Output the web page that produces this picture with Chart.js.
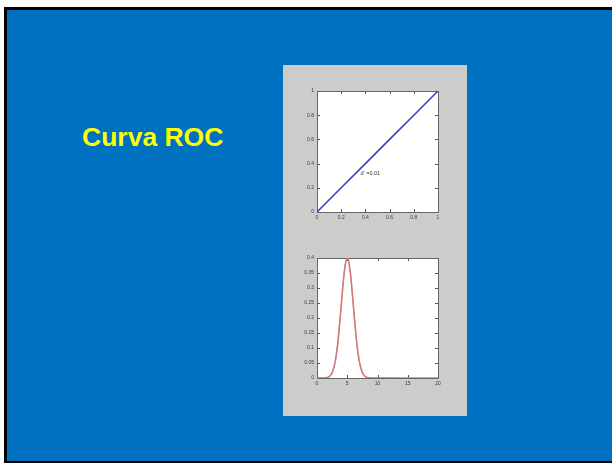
<!DOCTYPE html>
<html>
<head>
<meta charset="utf-8">
<script src="https://cdn.jsdelivr.net/npm/chart.js@4/dist/chart.umd.min.js"></script>
<style>
  html, body { margin: 0; padding: 0; background: #ffffff; width: 612px; height: 464px; overflow: hidden; }
  #slide { position: absolute; left: 4px; top: 7px; width: 640px; height: 456px; box-sizing: border-box;
           border-style: solid; border-color: #000; border-width: 3px 3px 2px 3px; background: #0070C0; }
  #title { position: absolute; left: 82px; top: 122px; font: bold 26.5px "Liberation Sans", Arial, sans-serif;
           line-height: 30px; color: #FFFF00; white-space: nowrap; }
  #panel { position: absolute; left: 283px; top: 65px; width: 184px; height: 351px; background: #CCCCCC; }
  #c1 { position: absolute; left: 283px; top: 65px; }
  #c2 { position: absolute; left: 283px; top: 240px; }
</style>
</head>
<body>
<div id="slide"></div>
<div id="title">Curva ROC</div>
<div id="panel"></div>
<canvas id="c1" width="184" height="175" style="width:184px;height:175px"></canvas>
<canvas id="c2" width="184" height="176" style="width:184px;height:176px"></canvas>
<script>
// ---- Data ----
const rocFalseAlarm = [0, 0.2, 0.4, 0.6, 0.8, 1];
const rocHit        = [0, 0.2, 0.4, 0.6, 0.8, 1];
const rocTickValues = [0, 0.2, 0.4, 0.6, 0.8, 1];
const rocTickLabels = ['0', '0.2', '0.4', '0.6', '0.8', '1'];
const rocNote = "d' =0.01";

const noiseX = [0, 0.5, 1, 1.5, 2, 2.5, 3, 3.25, 3.5, 3.75, 4, 4.25, 4.5, 4.75, 5, 5.25, 5.5, 5.75, 6, 6.25, 6.5, 6.75, 7, 7.5, 8, 8.5, 9, 10, 11, 12, 13, 13.5];
const noiseY = [0, 0, 0.0001, 0.001, 0.0045, 0.0175, 0.054, 0.086, 0.13, 0.183, 0.242, 0.301, 0.352, 0.387, 0.399, 0.387, 0.352, 0.301, 0.242, 0.183, 0.13, 0.086, 0.054, 0.0175, 0.0045, 0.001, 0.0001, 0, 0, 0, 0, 0];
const signalX = [0, 0.5, 1, 1.5, 2, 2.5, 3, 3.25, 3.5, 3.75, 4, 4.25, 4.5, 4.75, 5, 5.25, 5.5, 5.75, 6, 6.25, 6.5, 6.75, 7, 7.5, 8, 8.5, 9, 10, 12, 14, 16, 18, 20];
const signalY = [0, 0, 0.0001, 0.001, 0.0043, 0.0172, 0.053, 0.085, 0.128, 0.181, 0.240, 0.300, 0.351, 0.386, 0.399, 0.388, 0.353, 0.303, 0.244, 0.185, 0.131, 0.087, 0.055, 0.0178, 0.0046, 0.001, 0.0001, 0, 0, 0, 0, 0, 0];
const distXTickValues = [0, 5, 10, 15, 20];
const distXTickLabels = ['0', '5', '10', '15', '20'];
const distYTickValues = [0, 0.05, 0.1, 0.15, 0.2, 0.25, 0.3, 0.35, 0.4];
const distYTickLabels = ['0', '0.05', '0.1', '0.15', '0.2', '0.25', '0.3', '0.35', '0.4'];

const pts = (xs, ys) => xs.map((x, i) => ({ x: x, y: ys[i] }));

// ---- Plugins ----
const frameTicks = {
  id: 'frameTicks',
  beforeDatasetsDraw(chart) {
    const { ctx, chartArea: a, scales } = chart;
    const L = 3;
    ctx.save();
    ctx.fillStyle = '#ffffff';
    ctx.fillRect(a.left, a.top, a.right - a.left, a.bottom - a.top);
    ctx.strokeStyle = '#555555';
    ctx.lineWidth = 1;
    ctx.beginPath();
    scales.x.ticks.forEach(t => {
      const px = Math.round(scales.x.getPixelForValue(t.value)) + 0.5;
      ctx.moveTo(px, a.bottom); ctx.lineTo(px, a.bottom - L);
      ctx.moveTo(px, a.top); ctx.lineTo(px, a.top + L);
    });
    scales.y.ticks.forEach(t => {
      const py = Math.round(scales.y.getPixelForValue(t.value)) + 0.5;
      ctx.moveTo(a.left, py); ctx.lineTo(a.left + L, py);
      ctx.moveTo(a.right, py); ctx.lineTo(a.right - L, py);
    });
    ctx.stroke();
    ctx.strokeStyle = '#666666';
    ctx.strokeRect(Math.round(a.left) + 0.5, Math.round(a.top) + 0.5,
                   Math.round(a.right - a.left), Math.round(a.bottom - a.top));
    ctx.restore();
  }
};

const noteLabel = {
  id: 'noteLabel',
  afterDatasetsDraw(chart, args, opts) {
    if (!opts.text) return;
    const { ctx, scales } = chart;
    ctx.save();
    ctx.fillStyle = '#333333';
    ctx.font = '5.5px "Liberation Sans", Arial, sans-serif';
    ctx.textAlign = 'left';
    ctx.textBaseline = 'middle';
    ctx.fillText(opts.text, scales.x.getPixelForValue(opts.x), scales.y.getPixelForValue(opts.y));
    ctx.restore();
  }
};

function axis(min, max, values, labels, isY) {
  return {
    type: 'linear', min: min, max: max,
    grid: { display: false, drawTicks: false },
    border: { display: false },
    afterBuildTicks: s => { s.ticks = values.map(v => ({ value: v })); },
    afterFit: s => { if (isY) s.width = 20; else s.height = 12; },
    ticks: {
      autoSkip: false, maxRotation: 0, padding: 3,
      color: '#3a3a3a',
      font: { size: 5, family: '"Liberation Sans", Arial, sans-serif' },
      callback: (v, i) => labels[i]
    }
  };
}

const common = {
  responsive: false, animation: false, devicePixelRatio: 1,
  elements: { point: { radius: 0 } }
};

new Chart(document.getElementById('c1'), {
  type: 'scatter',
  data: { datasets: [{
    data: pts(rocFalseAlarm, rocHit), showLine: true,
    borderColor: '#3838c8', borderWidth: 1.5, pointRadius: 0
  }]},
  options: Object.assign({}, common, {
    layout: { padding: { left: 14, right: 29, top: 26, bottom: 16 } },
    scales: {
      x: axis(0, 1, rocTickValues, rocTickLabels, false),
      y: axis(0, 1, rocTickValues, rocTickLabels, true)
    },
    plugins: { legend: { display: false }, tooltip: { enabled: false },
      noteLabel: { text: rocNote, x: 0.36, y: 0.32 } }
  }),
  plugins: [frameTicks, noteLabel]
});

new Chart(document.getElementById('c2'), {
  type: 'scatter',
  data: { datasets: [
    { data: pts(signalX, signalY), showLine: true, borderColor: 'rgba(214,120,120,0.95)', borderWidth: 1.6, pointRadius: 0, cubicInterpolationMode: 'monotone' },
    { data: pts(noiseX, noiseY), showLine: true, borderColor: 'rgba(110,70,70,0.8)', borderWidth: 0.8, pointRadius: 0, cubicInterpolationMode: 'monotone' }
  ]},
  options: Object.assign({}, common, {
    layout: { padding: { left: 14, right: 29, top: 18, bottom: 26 } },
    scales: {
      x: axis(0, 20, distXTickValues, distXTickLabels, false),
      y: axis(0, 0.4, distYTickValues, distYTickLabels, true)
    },
    plugins: { legend: { display: false }, tooltip: { enabled: false }, noteLabel: {} }
  }),
  plugins: [frameTicks, noteLabel]
});
</script>
</body>
</html>
